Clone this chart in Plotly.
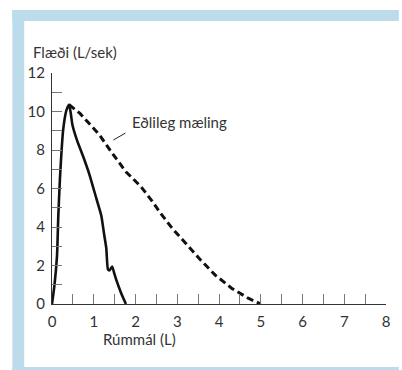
import plotly.graph_objects as go

# Flow-volume loop: patient curve (solid) and normal reference curve (dashed)
patient_volume = [0.0, 0.06, 0.12, 0.15, 0.19, 0.27, 0.35, 0.41, 0.45, 0.49, 0.60, 0.74,
                  0.90, 1.06, 1.18, 1.25, 1.30, 1.34, 1.38, 1.44, 1.49, 1.54, 1.65, 1.77]
patient_flow = [0.0, 1.0, 2.5, 4.5, 6.5, 9.1, 10.1, 10.35, 9.9, 9.3, 8.5, 7.7,
                6.7, 5.5, 4.6, 3.6, 2.9, 1.8, 1.75, 1.95, 1.6, 1.25, 0.6, 0.0]

normal_volume = [0.41, 0.67, 1.14, 1.42, 1.77, 2.13, 2.41, 2.57, 2.88, 3.20,
                 3.56, 3.91, 4.31, 4.70, 5.0]
normal_flow = [10.35, 9.9, 8.78, 7.9, 6.87, 6.1, 5.31, 4.8, 3.93, 3.15,
               2.29, 1.5, 0.81, 0.3, 0.0]

x_range = [0, 8]
y_range = [0, 12]
y_title = "Flæði (L/sek)"
x_title = "Rúmmál (L)"
normal_label = "Eðlileg mæling"

FONT = "Lato"
TEXT = "#333333"
FRAME = "#bcdcec"

W, H = 402, 370
L, R, T, B = 52, 13, 73, 66
pw, ph = W - L - R, H - T - B


def px_x(p):
    return (p - L) / pw


def px_y(p):
    return (H - B - p) / ph


def band(x0, x1, y0, y1):
    return dict(type="rect", xref="paper", yref="paper", layer="below",
                x0=px_x(x0), x1=px_x(x1), y0=px_y(y1), y1=px_y(y0),
                fillcolor=FRAME, line=dict(width=0))


fig = go.Figure()
fig.add_trace(go.Scatter(x=normal_volume, y=normal_flow, mode="lines",
                         line=dict(color="#111111", width=3, dash="7px,4px"),
                         hoverinfo="skip"))
fig.add_trace(go.Scatter(x=patient_volume, y=patient_flow, mode="lines",
                         line=dict(color="#111111", width=2.6, shape="spline", smoothing=0.5),
                         hoverinfo="skip"))

shapes = [
    # light blue frame: left band, top band and bottom band
    band(12, 24, 10, 370),
    band(12, 402, 10, 21),
    band(12, 402, 367, 370),
    # leader line for the normal-curve label
    dict(type="line", xref="x", yref="y", x0=1.47, y0=8.52, x1=1.76, y1=8.88,
         line=dict(color="#222222", width=1)),
]

annotations = [
    dict(x=1.87, y=9.43, xref="x", yref="y", text=normal_label, showarrow=False,
         xanchor="left", yanchor="middle", font=dict(family=FONT, size=15, color=TEXT)),
    dict(x=px_x(31), y=px_y(52), xref="paper", yref="paper", text=y_title,
         showarrow=False, xanchor="left", yanchor="middle",
         font=dict(family=FONT, size=15, color=TEXT)),
    dict(x=px_x(140), y=px_y(339), xref="paper", yref="paper", text=x_title,
         showarrow=False, xanchor="center", yanchor="middle",
         font=dict(family=FONT, size=15, color=TEXT)),
]

fig.update_layout(
    width=W, height=H,
    margin=dict(l=L, r=R, t=T, b=B, pad=0),
    paper_bgcolor="white", plot_bgcolor="rgba(0,0,0,0)",
    showlegend=False,
    shapes=shapes, annotations=annotations,
    font=dict(family=FONT, size=15, color=TEXT),
    xaxis=dict(range=x_range, dtick=1, tick0=0, showgrid=False, zeroline=False,
               showline=True, linecolor="#333333", linewidth=1.2,
               ticks="inside", ticklen=10, tickcolor="#777777", tickwidth=1,
               minor=dict(dtick=0.5, ticks="inside", ticklen=10, tickcolor="#777777",
                          showgrid=False),
               ticklabelstandoff=4, fixedrange=True),
    yaxis=dict(range=y_range, dtick=2, tick0=0, showgrid=False, zeroline=False,
               showline=True, linecolor="#333333", linewidth=1.2,
               ticks="inside", ticklen=10, tickcolor="#777777", tickwidth=1,
               minor=dict(dtick=1, ticks="inside", ticklen=10, tickcolor="#777777",
                          showgrid=False),
               ticklabelstandoff=3, fixedrange=True),
)

fig.write_html("out.html", config=dict(displayModeBar=False))
